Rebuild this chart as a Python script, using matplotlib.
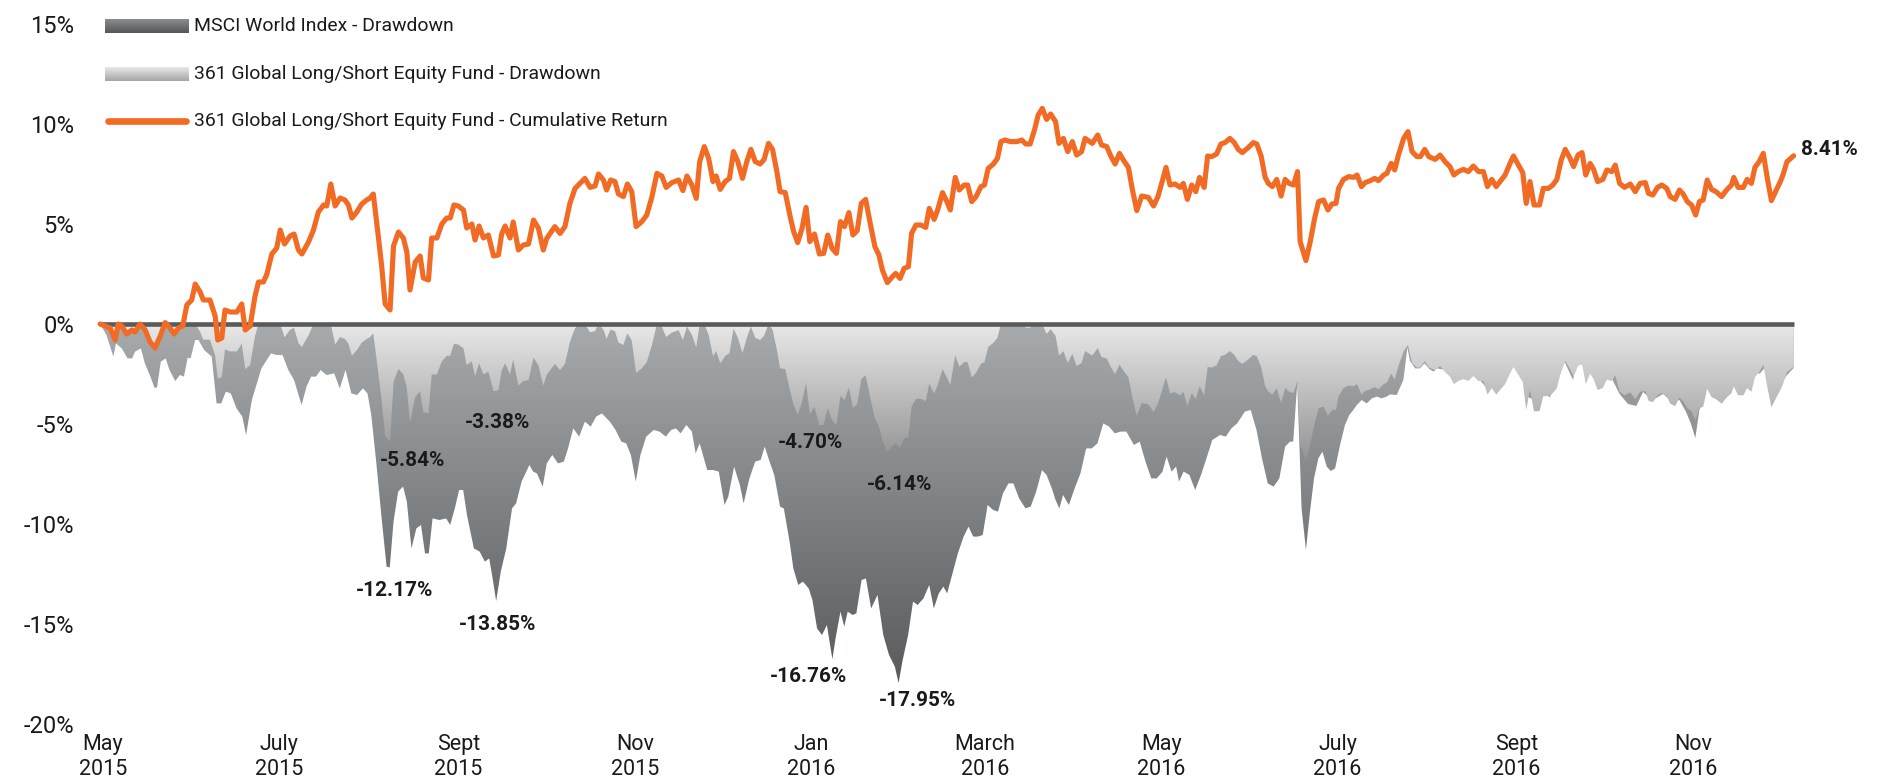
import numpy as np
import matplotlib
matplotlib.use("Agg")
import matplotlib.pyplot as plt
import matplotlib.dates as mdates
from matplotlib import font_manager
from matplotlib.colors import to_rgb
from datetime import datetime

# ---------------- data ----------------
start_date = datetime(2015, 4, 30)

# fund cumulative return (%), by calendar day since start
ret_day = [
    0, 3.5, 5.2, 6.3, 7.5, 9.2, 11, 12.1, 13.8, 15.6,
    17.3, 19, 20.8, 22.5, 24.2, 25.6, 27.1, 28.6, 30, 31.7,
    32.9, 34.6, 35.7, 38, 39.8, 40.7, 42.1, 43.2, 45, 47.3,
    49, 50.2, 51.9, 53.6, 54.8, 56.5, 57.7, 59.4, 61.1, 62.3,
    63.8, 65.7, 67.1, 68.6, 69.8, 72.1, 73.8, 75.5, 77.3, 78.4,
    79.8, 81.3, 83, 84.7, 85.9, 87.1, 88.8, 90.5, 92.2, 93.4,
    94.5, 96.3, 97.4, 98.6, 100.3, 101.5, 103.2, 104.9, 106.1, 107.2,
    109, 110.7, 111.8, 113.6, 114.7, 116.5, 118.2, 119.9, 121.1, 122.4,
    123.9, 125.7, 126.8, 128.6, 129.7, 131.1, 132.6, 134.3, 136.1, 137.8,
    138.9, 140.1, 141.8, 142.9, 144.7, 146.4, 148.2, 149.9, 151.6,
    153.3, 154.5, 157.3, 159.1, 160.8, 162.5, 164.3, 166, 167.7, 169.5,
    171.2, 172.4, 174.1, 175.2, 176.6, 178.1, 179.3, 181, 182.4, 183.9,
    185.4, 187.4, 189.1, 190.9, 192.6, 194.3, 195.8, 197.8, 200.1, 201.6,
    203, 204.7, 206.2, 207.4, 209, 210.5, 212, 213.1, 214.5, 216.2,
    217.7, 219.1, 220.6, 222.2, 223.7, 225.1, 226.6, 228.3, 229.7, 231.2,
    232.6, 234.1, 235.2, 237, 238.7, 239.9, 241.3, 242.8, 244.2, 245.5,
    247.1, 248.8, 250.3, 251.7, 253.2, 254.7, 256.1, 257.5, 259, 260.4,
    261.9, 263.3, 264.8, 266.5, 268, 269.4, 270.6, 272.3, 274.1, 275.2,
    276.7, 278.1, 279.6, 280.7, 282.2, 283.9, 285.6, 286.8, 288.5, 289.7,
    291.4, 292.9, 294.1, 295.8, 297.2, 298.9, 300.1, 301.5, 303, 304.7,
    305.9,
    307.2, 309, 310.4, 311.6, 313, 314.8, 317.1, 318.8, 320.2, 321.7,
    323.2, 324.5, 325.9, 327.4, 328.8, 330.5, 331.7, 333.2, 334.7, 336.3,
    337.8, 339.5, 340.7, 343.2, 345.1, 346.4, 348.2, 349.7, 351.1, 352.6,
    354.3, 355.7, 357.1, 358.6, 360.3, 362.6, 364.4, 365.9, 367.2, 368.7,
    370.1, 371.8, 373.6, 374.7, 376.1, 377.6, 379, 380.3, 381.9, 383.1,
    384.5, 386.2, 387.7, 389.1, 390.8, 392.3, 393.7, 395.1, 397.2, 398.9,
    400.1, 401.6, 403, 404.1, 405.5, 407, 408.5, 409.9, 411.3, 412.8,
    414.2, 415.1, 417.1, 418.6, 420.1, 421.5, 423.2, 424.7, 426.1, 427.5,
    428.4, 430.1, 431.9, 433.6, 434.8, 436.3, 437.6, 439.4, 440.9, 442.2,
    444, 445.1, 446.6, 447.8, 449.1, 450.9, 452.4, 453.8, 455.5, 456.7,
    458.2, 459.6,
    461.8, 463.5, 465.2, 466.9, 468.3, 469.8, 471.6, 473.3, 475, 476.8,
    478.5, 479.9, 481.4, 482.9, 484.5, 486, 487.7, 488.9, 490.6, 492.1,
    493.3, 494.6, 496, 497.9, 499.2, 501, 502.5, 503.9, 505.4, 506.8,
    508.3, 509.7, 511.2, 512.6, 513.9, 515.4, 516.6, 518, 519.8, 521.2,
    522.9, 524.1, 525.6, 527.3, 529.3, 531, 532.7, 534.5, 535.6, 537.1,
    538.7, 540.2, 541.9, 543.1, 544.8, 546.3, 547.6, 549, 550.5, 551.9,
    553.2, 554.5, 555.9, 557.4, 558.9, 560.9, 562.6, 564.3, 565.1, 566.6,
    568.4, 569.7, 571.2, 572.4, 573.9, 575.3, 576.6, 578.1, 579.8, 581.2,
    582.1, 583.5, 584.4, 585.8,
]
fund_return = [
    0.0, -0.2, -0.8, 0.0, -0.1, -0.5, -0.3, -0.4, 0.0, -0.3,
    -0.9, -1.2, -0.6, 0.07, -0.2, -0.5, -0.2, -0.1, 0.95, 1.2,
    2.0, 1.6, 1.2, 1.2, 0.4, -0.8, -0.7, 0.7, 0.6, 0.6,
    1.0, -0.3, -0.1, 1.4, 2.1, 2.1, 2.5, 3.5, 3.8, 4.7,
    4.0, 4.4, 4.5, 3.7, 3.5, 4.1, 4.7, 5.6, 5.95, 5.9,
    7.0, 5.9, 6.3, 6.2, 5.95, 5.3, 5.6, 6.0, 6.2, 6.3,
    6.5, 4.3, 2.9, 1.0, 0.7, 3.9, 4.6, 4.3, 3.6, 1.7,
    3.1, 3.4, 2.3, 2.2, 4.3, 4.3, 5.0, 5.3, 5.3, 5.95,
    5.9, 5.7, 4.8, 5.0, 4.2, 4.9, 4.3, 4.45, 3.4, 3.45,
    4.5, 4.9, 4.3, 5.1, 3.7, 3.95, 4.0, 5.2, 4.8,
    3.7, 4.28, 4.87, 4.53, 4.87, 6.03, 6.78, 7.03, 7.28, 6.83,
    6.9, 7.5, 7.2, 6.7, 7.2, 7.12, 6.5, 6.37, 7.0, 6.62,
    4.87, 5.12, 5.45, 6.37, 7.53, 7.4, 6.83, 7.07, 7.2, 6.67,
    7.4, 6.95, 6.28, 8.12, 8.87, 8.28, 7.12, 7.4, 6.73, 7.12,
    7.28, 8.62, 8.12, 7.28, 8.12, 8.73, 8.12, 8.0, 8.23, 9.03,
    8.73, 7.62, 6.62, 6.57, 5.37, 4.62, 4.07, 4.78, 5.83, 4.12,
    4.5, 3.5, 3.53, 4.45, 3.78, 3.53, 5.12, 4.87, 5.57, 4.45,
    4.67, 6.03, 6.23, 4.95, 3.87, 3.45, 2.7, 2.07, 2.37, 2.53,
    2.28, 2.78, 2.87, 4.53, 4.95, 4.95, 4.83, 5.78, 5.23, 5.7,
    6.57, 6.12, 5.7, 7.33, 6.7, 6.95, 6.95, 6.12, 6.37, 6.87,
    6.95,
    7.78, 8.0, 8.28, 9.12, 9.2, 9.12, 9.12, 9.2, 9.0, 9.0,
    9.7, 10.45, 10.78, 10.23, 10.5, 10.12, 9.03, 9.28, 8.62, 9.12,
    8.45, 8.62, 9.28, 9.03, 9.45, 8.95, 8.87, 8.37, 8.0, 8.53,
    8.12, 7.83, 6.7, 5.67, 6.4, 6.33, 5.9, 6.37, 7.03, 7.83,
    6.95, 7.0, 6.83, 7.03, 6.23, 6.95, 6.62, 7.33, 6.83, 8.4,
    8.37, 8.5, 9.0, 9.07, 9.28, 9.07, 8.73, 8.57, 8.83, 9.07,
    9.0, 8.4, 7.33, 7.03, 6.87, 7.23, 6.4, 7.23, 7.03, 6.95,
    7.62, 4.12, 3.17, 4.12, 5.28, 6.12, 6.2, 5.7, 6.0, 6.03,
    6.78, 7.23, 7.37, 7.33, 7.45, 6.87, 7.07, 7.17, 7.28, 7.17,
    7.45, 7.53, 8.03, 7.7, 8.45, 9.28, 9.62, 8.62, 8.37, 8.37,
    8.73, 8.37,
    8.23, 8.45, 8.12, 7.87, 7.45, 7.62, 7.73, 7.62, 7.9, 7.62,
    7.62, 6.87, 7.23, 6.87, 7.17, 7.45, 8.03, 8.4, 7.95, 7.57,
    6.03, 7.12, 5.95, 5.95, 6.78, 6.78, 6.95, 7.23, 8.2, 8.73,
    8.33, 7.87, 8.45, 8.57, 7.45, 8.03, 7.73, 7.12, 7.23, 7.7,
    7.62, 7.95, 7.03, 6.83, 7.0, 6.62, 7.03, 7.07, 6.53, 6.45,
    6.83, 6.95, 6.78, 6.37, 6.23, 6.7, 6.5, 6.12, 5.95, 5.45,
    6.12, 6.2, 7.2, 6.73, 6.62, 6.37, 6.7, 6.95, 7.33, 6.83,
    6.83, 7.23, 7.03, 7.83, 8.12, 8.53, 7.37, 6.17, 6.7, 7.12,
    7.45, 8.12, 8.23, 8.41,
]

# MSCI World drawdown (%), by calendar day since start
msci_day = [
    0, 2.2, 4.6, 5.5, 7.5, 9.5, 11.1, 12.1, 14.1, 15.5,
    17.4, 18.8, 19.7, 21, 22.7, 24, 26, 27.6, 29, 30.3,
    31.3, 32.9, 34, 36, 38.6, 40.3, 41.9, 43.5, 45.2, 47.2,
    49.2, 50.5, 52.5, 55.8, 59.1, 61.1, 63.1, 65.1, 67.1, 69.7,
    71.4, 73, 74.7, 76.3, 78.3, 81, 82.9, 84.9, 86.9, 88.9,
    90.9, 92.5, 93.8, 95.5, 97.5, 99.1, 100.2, 101.5, 103.1, 104.8,
    106.1, 107.7, 109.4, 111, 112.4, 113.7, 115, 117.4, 119.7, 121.1,
    122.7, 124.2, 125.6, 126.9, 129.3, 131.3, 133.1, 134.6, 135.9, 137,
    138.6, 140.5, 142.5, 143.9, 145.8, 148.5, 149.8, 151.1, 153.1, 154.5,
    156.4, 158.4, 160.4, 161.7, 163.7, 165.7, 167.7, 169.7, 171.6, 173.6,
    176.3, 178.3, 180.3, 182, 183.6, 185.3, 186.9, 188.9, 191.5, 193.5,
    195.7, 197.5, 199.2, 200.8, 202.8, 204.7, 206, 207.4, 210, 212,
    214, 216, 217.3, 219.3, 221.3, 222.6, 224.6, 226.6, 228.5, 229.9,
    231.2, 233.2, 235.2, 236.5, 238.5, 239.8, 241.5, 243.1, 245.1, 246.4,
    248, 249.7, 251.4, 253.3, 254.4, 256.1, 257.4, 258.6, 260.3, 261.6,
    263.4, 264.9, 266.7, 268.9, 270.9, 272.9, 274.9, 276.2, 277.5, 279.5,
    281.2, 282.8, 284.8, 286.8, 288.4, 290.1, 291.7, 293, 294.7, 296.7,
    298.7, 300.4, 302, 303.6, 305.3, 307, 308.9, 310.6, 312.3, 314.2,
    315.9, 317.9, 320.1, 321.9, 323.8, 325.8, 327.4, 329.2, 330.5, 331.8,
    333.1, 335.1, 337.1, 339.1, 341.1, 343, 345, 347, 349, 351,
    353, 355, 357.6, 359.6, 361.6, 363.6, 365.5, 367.5, 368.9, 370.6,
    372.2, 373.2, 374.8, 376.8, 378.8, 380.8, 382.7, 384.7, 387.4, 389.4,
    391.3, 393.3, 396, 398, 400, 401.9, 403.9, 405.9, 407.9, 409.9,
    411.6, 412.7, 414.1, 415.6, 417.1, 418.5, 419.9, 421.4, 422.8, 424.3,
    425.7, 427.2, 428.9, 430.6, 432.1, 433.5, 434.7, 436.4, 438.1, 439.9,
    441.6, 443.3, 445, 446.2, 448.5, 450.8, 452.2, 453.1, 454.9, 456.6,
    458.1, 459.8, 461.2, 462.4, 465.8, 469.2, 472.7, 476.1, 479.6, 483,
    486.5, 488.5, 492.2, 493.1, 496.2, 499.1, 501.4, 503.7, 506.6, 509.5,
    510.8, 515.2, 518.7, 522.1, 525.6, 528.5, 531.4, 533.7, 537.1, 540.6,
    544, 546.3, 548.6, 550.3, 551.8, 553.2, 556.1, 559, 562.4, 564.8,
    568.2, 571.7, 574, 575.7, 578.1, 580.9, 583.2, 585.8,
]
msci_drawdown = [
    0.0, -0.55, -1.63, -0.97, -1.22, -1.72, -1.72, -1.38, -1.22, -1.97,
    -2.63, -3.18, -3.18, -1.88, -1.72, -2.3, -2.85, -2.55, -2.63, -1.68,
    -1.72, -0.8, -0.8, -1.3, -1.63, -3.97, -3.97, -3.38, -3.47, -4.22,
    -4.63, -5.55, -3.8, -2.22, -1.47, -1.55, -1.55, -2.3, -2.8, -4.05,
    -3.13, -2.63, -2.63, -2.3, -2.55, -2.47, -3.22, -2.3, -3.47, -3.55,
    -3.22, -3.47, -4.55, -6.88, -9.88, -12.13, -12.17, -9.88, -8.38, -8.13,
    -8.88, -11.22, -10.22, -10.05, -11.47, -11.47, -9.72, -9.8, -9.72, -10.05,
    -9.22, -8.3, -8.3, -9.55, -11.22, -11.38, -11.88, -11.72, -12.83, -13.85,
    -12.38, -11.22, -9.22, -8.97, -7.88, -7.05, -7.38, -7.47, -8.13, -6.97,
    -6.55, -6.97, -6.88, -6.3, -5.22, -5.63, -4.88, -5.13, -4.63, -4.47,
    -4.88, -5.3, -5.88, -5.97, -6.55, -7.88, -6.55, -5.63, -5.3, -5.38,
    -5.63, -5.3, -5.22, -5.47, -5.05, -5.38, -6.47, -5.97, -7.3, -7.3,
    -7.38, -9.05, -8.63, -7.13, -8.05, -8.97, -7.72, -6.88, -6.8, -6.13,
    -6.72, -7.55, -9.13, -9.22, -10.88, -12.22, -13.05, -12.88, -13.22, -13.8,
    -15.22, -15.55, -15.05, -16.76, -15.72, -14.38, -15.13, -14.38, -14.55, -14.47,
    -12.8, -12.72, -14.22, -13.55, -15.55, -16.55, -17.13, -17.95, -16.88, -15.55,
    -13.88, -14.05, -13.72, -13.05, -14.22, -13.47, -13.13, -13.47, -12.55, -11.47,
    -10.63, -10.13, -10.63, -10.63, -10.55, -9.05, -9.3, -9.38, -8.47, -7.97,
    -7.97, -8.72, -9.22, -9.13, -8.38, -7.3, -7.55, -8.22, -8.8, -9.22,
    -8.55, -9.05, -8.22, -7.47, -6.22, -6.22, -5.97, -4.97, -5.13, -5.47,
    -5.38, -5.38, -6.05, -5.88, -6.88, -7.72, -7.72, -7.38, -6.63, -7.38,
    -7.13, -7.88, -7.38, -7.55, -8.3, -7.55, -6.72, -5.8, -5.55, -5.63,
    -5.22, -4.97, -4.38, -4.3, -5.3, -6.72, -7.97, -8.13, -7.72, -6.13,
    -5.88, -5.88, -2.97, -9.22, -11.3, -9.38, -7.72, -6.72, -6.38, -7.13,
    -7.35, -7.22, -6.05, -5.05, -4.55, -4.3, -4.05, -3.8, -3.97, -3.72,
    -3.63, -3.72, -3.63, -3.52, -3.55, -2.8, -1.18, -1.85, -2.22, -2.22,
    -1.97, -2.25, -2.38, -2.22, -2.3, -2.7, -2.6, -2.6, -3.2, -3.1,
    -2.6, -2.0, -2.6, -3.6, -3.8, -3.3, -3.67, -3.0, -1.9, -2.8,
    -1.8, -2.4, -2.9, -2.5, -3.5, -4.0, -4.1, -3.4, -3.8, -3.5,
    -3.9, -3.8, -4.4, -5.0, -5.7, -4.3, -3.0, -3.3, -3.0, -2.6,
    -2.7, -2.2, -2.5, -2.2, -3.5, -3.2, -2.6, -2.2,
]

yticks = [-20, -15, -10, -5, 0, 5, 10, 15]
xtick_dates = [datetime(2015, 5, 1), datetime(2015, 7, 1), datetime(2015, 9, 1),
               datetime(2015, 11, 1), datetime(2016, 1, 1), datetime(2016, 3, 1),
               datetime(2016, 5, 1), datetime(2016, 7, 1), datetime(2016, 9, 1),
               datetime(2016, 11, 1)]
xtick_labels = ["May\n2015", "July\n2015", "Sept\n2015", "Nov\n2015", "Jan\n2016",
                "March\n2016", "May\n2016", "July\n2016", "Sept\n2016", "Nov\n2016"]
legend_labels = ["MSCI World Index - Drawdown",
                 "361 Global Long/Short Equity Fund - Drawdown",
                 "361 Global Long/Short Equity Fund - Cumulative Return"]
ann_labels = ["-5.84%", "-3.38%", "-12.17%", "-13.85%",
              "-4.70%", "-6.14%", "-16.76%", "-17.95%"]
end_label = "8.41%"

# ---------------- layout / style ----------------
ann_pos = [(108, -6.8), (137.6, -4.9), (102, -13.3), (137.6, -15.0),
           (245.9, -5.9), (276.7, -8.0), (245.2, -17.6), (282.6, -18.85)]

avail = {f.name for f in font_manager.fontManager.ttflist}
FONT = "Liberation Sans Narrow" if "Liberation Sans Narrow" in avail else "Roboto"
plt.rcParams["font.family"] = [FONT, "DejaVu Sans"]

ORANGE = "#f26b24"
TXT = "#1a1a1a"
W, H = 1879, 784
fig = plt.figure(figsize=(W / 100, H / 100), dpi=100)
ax = fig.add_axes([90 / W, (H - 724) / H, 1710 / W, 700 / H])

base = mdates.date2num(start_date)
xr = base + np.array(ret_day, dtype=float)
xm = base + np.array(msci_day, dtype=float)
r = np.array(fund_return, dtype=float)
peak = np.maximum.accumulate(np.maximum(r, 0.0))
fund_dd = ((1 + r / 100.0) / (1 + peak / 100.0) - 1) * 100.0
mdd = np.array(msci_drawdown, dtype=float)


def gradient_area(x, y, c_top, c_bot, y_bot, z):
    poly = ax.fill_between(x, 0, y, facecolor="none", edgecolor="none", linewidth=0)
    t = np.linspace(0, 1, 256)[:, None, None]
    img = np.array(to_rgb(c_top))[None, None, :] * (1 - t) + np.array(to_rgb(c_bot))[None, None, :] * t
    im = ax.imshow(img, extent=[x.min(), x.max(), y_bot, 0], aspect="auto",
                   origin="upper", zorder=z, interpolation="bilinear")
    im.set_clip_path(poly.get_paths()[0], transform=ax.transData)


gradient_area(xm, mdd, "#a7abae", "#56585a", -18.5, 1)
gradient_area(xr, fund_dd, "#e9e9e9", "#929292", -7.0, 2)

ax.plot([xr[0], xr[-1]], [0, 0], color="#5a5a5a", lw=3.3, solid_capstyle="butt", zorder=3)
ax.plot(xr, r, color=ORANGE, lw=3.7, solid_joinstyle="round", solid_capstyle="round", zorder=4)

ax.set_xlim(base - 3.49, base + 588.0)
ax.set_ylim(-20, 15)
for s in ax.spines.values():
    s.set_visible(False)
ax.set_yticks(yticks)
ax.set_yticklabels([f"{v}%" for v in yticks])
ax.set_xticks([mdates.date2num(d) for d in xtick_dates])
ax.set_xticklabels(xtick_labels, linespacing=1.25)
ax.tick_params(axis="y", length=0, pad=11.5, labelsize=17, labelcolor=TXT)
ax.tick_params(axis="x", length=0, pad=7, labelsize=15.5, labelcolor=TXT)
ax.set_facecolor("white")

anns = []
for lab, (d, v) in zip(ann_labels, ann_pos):
    anns.append(ax.text(base + d, v, lab, ha="center", va="center", fontsize=14,
                        fontweight="bold", color=TXT, zorder=6))
endt = ax.text(base + 588.3, r[-1] + 0.3, end_label, ha="left", va="center", fontsize=14,
               fontweight="bold", color=TXT, clip_on=False, zorder=6)

# legend (manual)
rows_y = [26, 74, 121]
patch_x0, patch_x1, patch_h = 105, 189, 14
grads = [("#8a8d8f", "#55585a"), ("#e8e8e8", "#a6a6a6")]
for (ct, cb), yc in zip(grads, rows_y[:2]):
    pax = fig.add_axes([patch_x0 / W, (H - yc - patch_h / 2) / H,
                        (patch_x1 - patch_x0) / W, patch_h / H])
    t = np.linspace(0, 1, 32)[:, None, None]
    img = np.array(to_rgb(ct))[None, None, :] * (1 - t) + np.array(to_rgb(cb))[None, None, :] * t
    pax.imshow(img, aspect="auto", extent=[0, 1, 0, 1], origin="upper")
    pax.set_axis_off()
fig.add_artist(plt.Line2D([(patch_x0 + 3) / W, (patch_x1 - 3) / W],
                          [(H - rows_y[2]) / H] * 2, color=ORANGE, lw=4.8,
                          solid_capstyle="round", transform=fig.transFigure))
leg_texts = [fig.text(194 / W, (H - yc) / H, lab, ha="left", va="center",
                      fontsize=14, color=TXT) for lab, yc in zip(legend_labels, rows_y)]

fig.canvas.draw()
rend = fig.canvas.get_renderer()
w3 = leg_texts[2].get_window_extent(rend).width
fs = 14 * 477.0 / w3
for t in leg_texts:
    t.set_fontsize(fs)
wa = anns[2].get_window_extent(rend).width
fa = 14 * 77.0 / wa
for t in anns:
    t.set_fontsize(fa)
we = endt.get_window_extent(rend).width
endt.set_fontsize(14 * 57.0 / we)

fig.savefig("out.png", dpi=100, facecolor="white")
